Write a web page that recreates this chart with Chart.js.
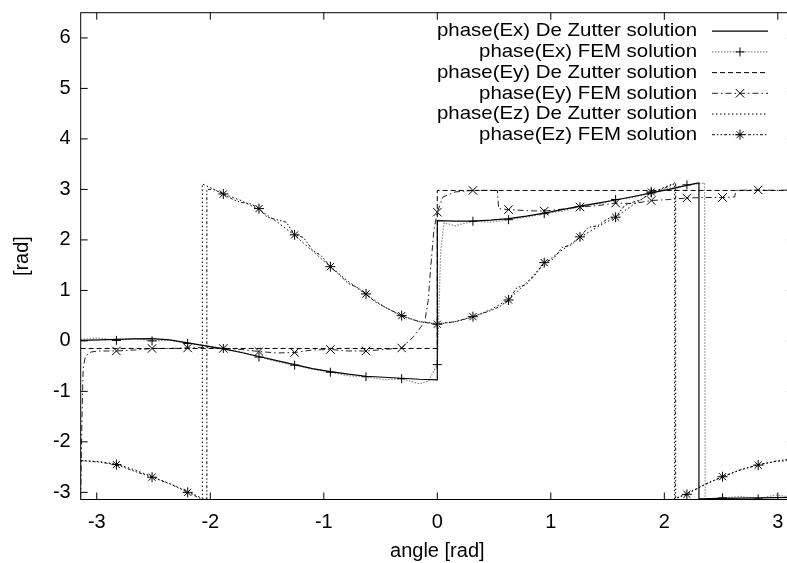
<!DOCTYPE html>
<html>
<head>
<meta charset="utf-8">
<script src="https://cdn.jsdelivr.net/npm/chart.js@4/dist/chart.umd.min.js"></script>
<style>
  html, body { margin: 0; padding: 0; background: #fff; overflow: hidden; }
  #wrap { width: 800px; height: 563px; }
</style>
</head>
<body>
<div id="wrap"><canvas id="c" width="800" height="563"></canvas></div>
<script>
// Phase of the scattered field components versus observation angle,
// analytic (De Zutter) solution against the FEM result. [angle, phase] pairs in rad.
const exDeZutter = [[-3.142,0.01],[-2.985,0.02],[-2.827,0.03],[-2.670,0.04],[-2.513,0.045],[-2.356,0.02],[-2.199,-0.04],[-2.042,-0.10],[-1.885,-0.16],[-1.728,-0.23],[-1.571,-0.31],[-1.414,-0.39],[-1.257,-0.47],[-1.100,-0.55],[-0.942,-0.61],[-0.785,-0.66],[-0.628,-0.70],[-0.471,-0.72],[-0.314,-0.74],[-0.157,-0.76],[0,-0.77],[0,2.38],[0.157,2.37],[0.314,2.37],[0.471,2.39],[0.628,2.42],[0.785,2.47],[0.942,2.53],[1.100,2.60],[1.257,2.67],[1.414,2.73],[1.571,2.79],[1.728,2.86],[1.885,2.93],[2.042,3.00],[2.199,3.08],[2.280,3.12],[2.305,3.13],[2.305,-3.13],[2.513,-3.12],[2.827,-3.11],[3.142,-3.10]];

const exFem = [[-3.142,0.03],[-2.985,0.06],[-2.827,0.01],[-2.670,0.05],[-2.513,0.00],[-2.356,0.01],[-2.199,-0.05],[-2.042,-0.09],[-1.885,-0.15],[-1.728,-0.22],[-1.571,-0.32],[-1.414,-0.41],[-1.257,-0.48],[-1.100,-0.56],[-0.942,-0.62],[-0.785,-0.69],[-0.628,-0.71],[-0.471,-0.77],[-0.314,-0.75],[-0.157,-0.85],[-0.080,-0.80],[0,-0.47],[0.030,1.80],[0.060,2.34],[0.157,2.28],[0.314,2.37],[0.471,2.35],[0.628,2.40],[0.785,2.45],[0.942,2.52],[1.100,2.57],[1.257,2.66],[1.414,2.71],[1.571,2.80],[1.728,2.84],[1.885,2.93],[2.042,3.02],[2.199,3.09],[2.340,3.12],[2.355,3.13],[2.360,-3.13],[2.513,-3.11],[2.670,-3.08],[2.827,-3.13],[2.985,-3.05],[3.142,-3.10]];

const eyDeZutter = [[-3.142,-0.15],[0,-0.15],[0,2.98],[3.142,2.98]];

const eyFem = [[-3.142,-3.12],[-3.130,-1.50],[-3.120,-0.55],[-3.100,-0.30],[-3.050,-0.22],[-2.985,-0.20],[-2.827,-0.20],[-2.670,-0.18],[-2.513,-0.15],[-2.356,-0.15],[-2.199,-0.14],[-2.042,-0.13],[-1.885,-0.15],[-1.728,-0.17],[-1.571,-0.21],[-1.414,-0.24],[-1.257,-0.23],[-1.100,-0.18],[-0.942,-0.17],[-0.785,-0.20],[-0.628,-0.20],[-0.471,-0.17],[-0.314,-0.14],[-0.210,0.08],[-0.110,0.38],[-0.080,0.80],[-0.060,1.40],[-0.030,2.20],[0,2.55],[0.050,2.85],[0.157,2.95],[0.314,2.98],[0.471,2.98],[0.530,2.98],[0.540,2.62],[0.628,2.60],[0.785,2.58],[0.942,2.57],[1.100,2.61],[1.257,2.65],[1.414,2.68],[1.571,2.73],[1.728,2.72],[1.885,2.78],[2.042,2.80],[2.199,2.83],[2.356,2.84],[2.513,2.84],[2.620,2.85],[2.630,2.98],[2.827,2.99],[2.985,2.98],[3.142,2.99]];

const ezDeZutter = [[-3.142,-2.37],[-2.985,-2.39],[-2.827,-2.44],[-2.670,-2.55],[-2.513,-2.69],[-2.356,-2.83],[-2.199,-2.98],[-2.070,-3.12],[-2.070,3.11],[-1.885,2.91],[-1.728,2.78],[-1.571,2.60],[-1.414,2.36],[-1.257,2.09],[-1.100,1.78],[-0.942,1.47],[-0.785,1.18],[-0.628,0.92],[-0.471,0.68],[-0.314,0.49],[-0.157,0.38],[0,0.34],[0.157,0.38],[0.314,0.47],[0.471,0.62],[0.628,0.82],[0.785,1.15],[0.942,1.53],[1.100,1.80],[1.257,2.05],[1.414,2.26],[1.571,2.45],[1.728,2.70],[1.885,2.93],[2.042,3.08],[2.090,3.13],[2.090,-3.13],[2.199,-3.02],[2.356,-2.85],[2.513,-2.69],[2.670,-2.56],[2.827,-2.45],[2.985,-2.39],[3.142,-2.36]];

const ezFem = [[-3.142,-2.37],[-2.985,-2.40],[-2.827,-2.45],[-2.670,-2.58],[-2.513,-2.70],[-2.356,-2.83],[-2.199,-3.00],[-2.080,-3.13],[-2.030,-3.13],[-2.030,3.00],[-1.970,3.00],[-1.885,2.91],[-1.800,2.80],[-1.728,2.74],[-1.650,2.72],[-1.571,2.62],[-1.500,2.45],[-1.414,2.40],[-1.330,2.35],[-1.257,2.10],[-1.180,2.05],[-1.100,1.80],[-1.020,1.68],[-0.942,1.47],[-0.860,1.30],[-0.785,1.14],[-0.700,1.05],[-0.628,0.93],[-0.550,0.78],[-0.471,0.68],[-0.314,0.50],[-0.157,0.38],[0,0.33],[0.157,0.38],[0.314,0.48],[0.471,0.60],[0.550,0.68],[0.628,0.81],[0.700,1.05],[0.785,1.12],[0.860,1.30],[0.942,1.55],[1.020,1.62],[1.100,1.85],[1.180,1.90],[1.257,2.06],[1.330,2.25],[1.414,2.28],[1.500,2.42],[1.571,2.45],[1.650,2.68],[1.728,2.75],[1.800,2.80],[1.885,2.95],[1.970,3.00],[2.042,3.06],[2.100,3.12],[2.100,-3.12],[2.199,-3.04],[2.356,-2.84],[2.513,-2.69],[2.670,-2.55],[2.827,-2.46],[2.985,-2.38],[3.142,-2.33]];

const legendLabels = [
  'phase(Ex) De Zutter solution',
  'phase(Ex) FEM solution',
  'phase(Ey) De Zutter solution',
  'phase(Ey) FEM solution',
  'phase(Ez) De Zutter solution',
  'phase(Ez) FEM solution'
];

const FONT = "'Liberation Sans', Arial, Helvetica, sans-serif";

// FEM symbols sit on every pi/10 step of the angle, away from the ends
function onSymbolStep(x) {
  const k = x * 10 / Math.PI;
  return Math.abs(k - Math.round(k)) < 0.01 && Math.abs(Math.round(k)) < 10;
}

function series(pairs, label, style) {
  return Object.assign({
    label,
    data: pairs.map(([x, y]) => ({ x, y })),
    fill: false,
    tension: 0,
    borderWidth: 1,
    pointRadius: 0,
    pointHoverRadius: 0,
    pointBorderColor: '#000',
    pointBackgroundColor: 'transparent',
    pointBorderWidth: 1
  }, style);
}

function symbols(style, radius) {
  return {
    pointStyle: style,
    pointRadius: ctx => (ctx.raw && onSymbolStep(ctx.raw.x)) ? radius : 0
  };
}

const datasets = [
  series(exDeZutter, legendLabels[0], { borderColor: '#000', borderWidth: 1.2 }),
  series(exFem, legendLabels[1], Object.assign({ borderColor: '#8a8a8a', borderWidth: 1.2, borderDash: [1.5, 1.5] }, symbols('cross', 4.5))),
  series(eyDeZutter, legendLabels[2], { borderColor: '#000', borderDash: [5, 3] }),
  series(eyFem, legendLabels[3], Object.assign({ borderColor: '#222', borderDash: [6, 3, 1.5, 3] }, symbols('crossRot', 6))),
  series(ezDeZutter, legendLabels[4], { borderColor: '#000', borderDash: [1.5, 2.5] }),
  series(ezFem, legendLabels[5], Object.assign({ borderColor: '#111', borderDash: [3, 2, 1.5, 2, 1.5, 2] }, symbols('star', 5)))
];

// gnuplot-style frame: full border with inward ticks on all four sides
const framePlugin = {
  id: 'frame',
  afterDraw(chart) {
    const { ctx, chartArea: a, scales } = chart;
    ctx.save();
    ctx.strokeStyle = '#000';
    ctx.lineWidth = 1;
    ctx.setLineDash([]);
    ctx.strokeRect(a.left, a.top, a.right - a.left, a.bottom - a.top);
    const len = 7;
    ctx.beginPath();
    scales.x.ticks.forEach(t => {
      const px = scales.x.getPixelForValue(t.value);
      ctx.moveTo(px, a.bottom); ctx.lineTo(px, a.bottom - len);
      ctx.moveTo(px, a.top); ctx.lineTo(px, a.top + len);
    });
    scales.y.ticks.forEach(t => {
      const py = scales.y.getPixelForValue(t.value);
      ctx.moveTo(a.left, py); ctx.lineTo(a.left + len, py);
      ctx.moveTo(a.right, py); ctx.lineTo(a.right - len, py);
    });
    ctx.stroke();
    ctx.restore();
  }
};

// key in the upper right: right-aligned titles followed by a line sample
const keyPlugin = {
  id: 'key',
  afterDraw(chart) {
    const { ctx } = chart;
    const textRight = 697, sampleL = 712, sampleR = 768, top = 31.2, step = 20.7;
    ctx.save();
    ctx.font = '19px ' + FONT;
    const sx = 260 / ctx.measureText(legendLabels[0]).width;
    chart.data.datasets.forEach((ds, i) => {
      const y = top + i * step;
      ctx.save();
      ctx.translate(textRight, y);
      ctx.scale(sx, 1);
      ctx.fillStyle = '#000';
      ctx.textAlign = 'right';
      ctx.textBaseline = 'middle';
      ctx.fillText(ds.label, 0, 0);
      ctx.restore();
      ctx.save();
      ctx.strokeStyle = ds.borderColor;
      ctx.lineWidth = ds.borderWidth;
      ctx.setLineDash(ds.borderDash || []);
      ctx.beginPath();
      ctx.moveTo(sampleL, y);
      ctx.lineTo(sampleR, y);
      ctx.stroke();
      ctx.restore();
      if (ds.pointStyle) {
        ctx.save();
        ctx.strokeStyle = '#000';
        ctx.lineWidth = 1;
        ctx.setLineDash([]);
        const r = ds.pointStyle === 'crossRot' ? 6 : (ds.pointStyle === 'star' ? 5 : 4.5);
        Chart.helpers.drawPoint(ctx, { pointStyle: ds.pointStyle, radius: r, rotation: 0, borderWidth: 1 }, (sampleL + sampleR) / 2, y);
        ctx.restore();
      }
    });
    ctx.restore();
  }
};

new Chart(document.getElementById('c'), {
  type: 'line',
  data: { datasets },
  plugins: [framePlugin, keyPlugin],
  options: {
    responsive: false,
    animation: false,
    devicePixelRatio: 1,
    layout: { padding: { left: 0, right: 6.1, top: 12.7, bottom: 0 } },
    plugins: { legend: { display: false }, tooltip: { enabled: false } },
    elements: { line: { capBezierPoints: false } },
    scales: {
      x: {
        type: 'linear',
        min: -Math.PI,
        max: Math.PI,
        afterFit(s) { s.height = 63.5; s.paddingLeft = 0; s.paddingRight = 0; },
        grid: { display: false },
        border: { display: false },
        ticks: { stepSize: 1, includeBounds: false, maxRotation: 0, padding: 3, color: '#000', font: { family: FONT, size: 20 } },
        title: { display: true, text: 'angle [rad]', color: '#000', font: { family: FONT, size: 20 }, padding: { top: 0, bottom: 0 } }
      },
      y: {
        type: 'linear',
        min: -Math.PI,
        max: 6.5,
        afterFit(s) { s.width = 80.7; s.paddingTop = 0; s.paddingBottom = 0; },
        grid: { display: false },
        border: { display: false },
        ticks: { stepSize: 1, includeBounds: false, padding: 2, color: '#000', font: { family: FONT, size: 20 } },
        title: { display: true, text: '[rad]', color: '#000', font: { family: FONT, size: 20 }, padding: { top: 10, bottom: 0 } }
      }
    }
  }
});
</script>
</body>
</html>
